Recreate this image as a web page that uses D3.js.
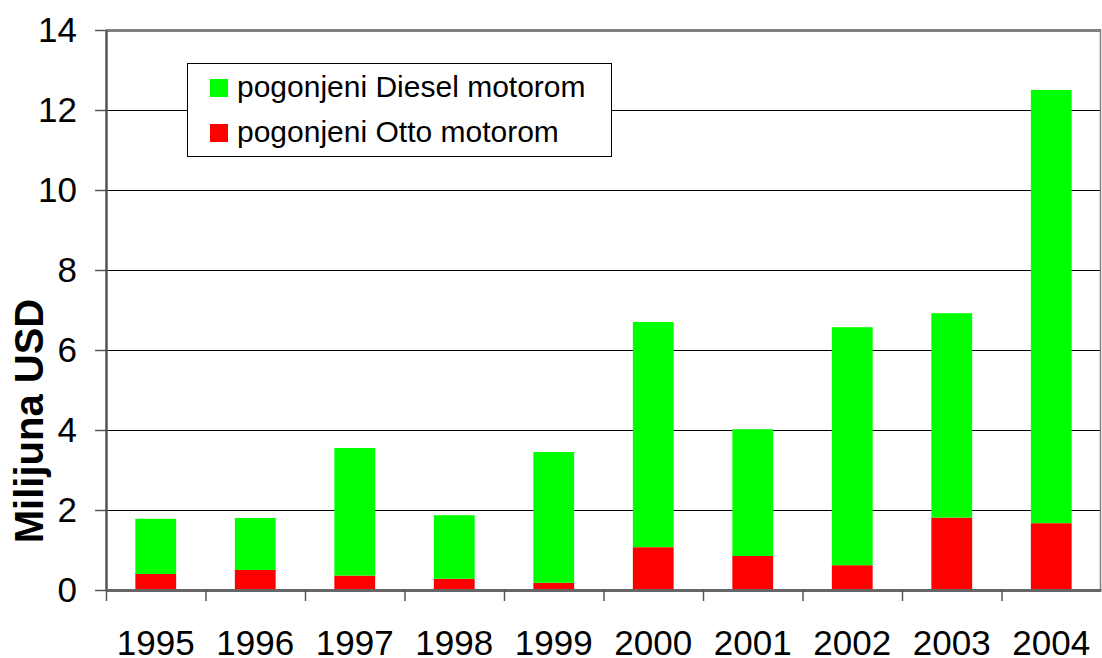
<!DOCTYPE html>
<html>
<head>
<meta charset="utf-8">
<script src="https://cdn.jsdelivr.net/npm/d3@7"></script>
<style>
  body { margin: 0; background: #fff; }
  svg { display: block; font-family: "Liberation Sans", Arial, sans-serif; }
</style>
</head>
<body>
<div id="graphicContainer"></div>
<script>
var years = ["1995", "1996", "1997", "1998", "1999", "2000", "2001", "2002", "2003", "2004"]
var otto = [0.4, 0.5, 0.36, 0.28, 0.18, 1.07, 0.85, 0.62, 1.81, 1.67]
var totals = [1.78, 1.8, 3.55, 1.87, 3.45, 6.7, 4.02, 6.57, 6.92, 12.5]
var diesel = totals.map((t, i) => +(t - otto[i]).toFixed(2))
var yTicks = [0, 2, 4, 6, 8, 10, 12, 14]
var seriesNames = ["pogonjeni Diesel motorom", "pogonjeni Otto motorom"]
var seriesColours = ["#00ff00", "#ff0000"]

var width = 1102, height = 658
var margin = { top: 30, right: 1, bottom: 68, left: 106 }

var svg = d3.select("#graphicContainer").append("svg")
  .attr("width", width)
  .attr("height", height)

var x = d3.scaleBand()
  .domain(years)
  .range([margin.left, width - margin.right])
  .paddingInner(0.59)
  .paddingOuter(0.295)

var x0 = d3.scaleBand()
  .domain(years)
  .range([margin.left, width - margin.right])

var y = d3.scaleLinear()
  .domain([0, 14])
  .range([height - margin.bottom, margin.top])

// gridlines
svg.append("g")
  .selectAll("line")
  .data(yTicks.filter(d => d > 0 && d < 14))
  .enter()
  .append("line")
  .attr("x1", margin.left)
  .attr("x2", width - margin.right)
  .attr("y1", d => y(d) + 0.5)
  .attr("y2", d => y(d) + 0.5)
  .attr("stroke", "#000")
  .attr("stroke-width", 1)

// plot border top / right
svg.append("line")
  .attr("x1", margin.left).attr("x2", width - margin.right)
  .attr("y1", y(14) + 0.5).attr("y2", y(14) + 0.5)
  .attr("stroke", "#808080").attr("stroke-width", 3)
svg.append("line")
  .attr("x1", width - margin.right - 0.5).attr("x2", width - margin.right - 0.5)
  .attr("y1", y(14)).attr("y2", y(0))
  .attr("stroke", "#808080").attr("stroke-width", 1.5)

var stackData = years.map((yr, i) => ({ year: yr, otto: otto[i], diesel: diesel[i] }))
var stack = d3.stack().keys(["otto", "diesel"])(stackData)
var colourOf = { otto: seriesColours[1], diesel: seriesColours[0] }

svg.append("g")
  .selectAll("g")
  .data(stack)
  .enter()
  .append("g")
  .attr("fill", d => colourOf[d.key])
  .selectAll("rect")
  .data(d => d)
  .enter()
  .append("rect")
  .attr("x", d => x(d.data.year))
  .attr("width", x.bandwidth())
  .attr("y", d => y(d[1]))
  .attr("height", d => y(d[0]) - y(d[1]))

// y axis
var yAxis = svg.append("g")
  .attr("transform", `translate(${margin.left},0)`)
  .call(d3.axisLeft(y).tickValues(yTicks).tickSize(11).tickPadding(18).tickSizeOuter(0))
yAxis.select(".domain").attr("stroke", "#555").attr("stroke-width", 2.5)
yAxis.selectAll(".tick line").attr("stroke", "#555").attr("stroke-width", 1.5)
yAxis.selectAll("text")
  .attr("font-size", 35)
  .attr("fill", "#000")
  .attr("font-family", "Liberation Sans, Arial, sans-serif")

// x axis
var xAxis = svg.append("g")
  .attr("transform", `translate(0,${y(0)})`)
  .call(d3.axisBottom(x0).tickSize(0).tickPadding(40).tickSizeOuter(0))
xAxis.select(".domain").attr("stroke", "#666").attr("stroke-width", 3)
xAxis.selectAll("text")
  .attr("font-size", 35)
  .attr("fill", "#000")
  .attr("font-family", "Liberation Sans, Arial, sans-serif")

svg.append("g")
  .selectAll("line")
  .data(years)
  .enter()
  .append("line")
  .attr("x1", d => x0(d) + 0.5)
  .attr("x2", d => x0(d) + 0.5)
  .attr("y1", y(0))
  .attr("y2", y(0) + 11)
  .attr("stroke", "#555")
  .attr("stroke-width", 1.5)

// y title
svg.append("text")
  .attr("transform", "translate(43,421) rotate(-90)")
  .attr("text-anchor", "middle")
  .attr("font-size", 40)
  .attr("font-weight", "bold")
  .text("Milijuna USD")

// legend
var legend = svg.append("g").attr("transform", "translate(187,63)")
legend.append("rect")
  .attr("x", 0.5).attr("y", 0.5)
  .attr("width", 424).attr("height", 93)
  .attr("fill", "#fff")
  .attr("stroke", "#000")
  .attr("stroke-width", 1)

seriesNames.forEach(function (name, i) {
  var row = legend.append("g").attr("transform", `translate(23,${25 + i * 45})`)
  row.append("rect")
    .attr("x", 0).attr("y", -9)
    .attr("width", 18).attr("height", 18)
    .attr("fill", seriesColours[i])
  row.append("text")
    .attr("x", 27)
    .attr("y", 9)
    .attr("font-size", 30)
    .text(name)
})
</script>
</body>
</html>
